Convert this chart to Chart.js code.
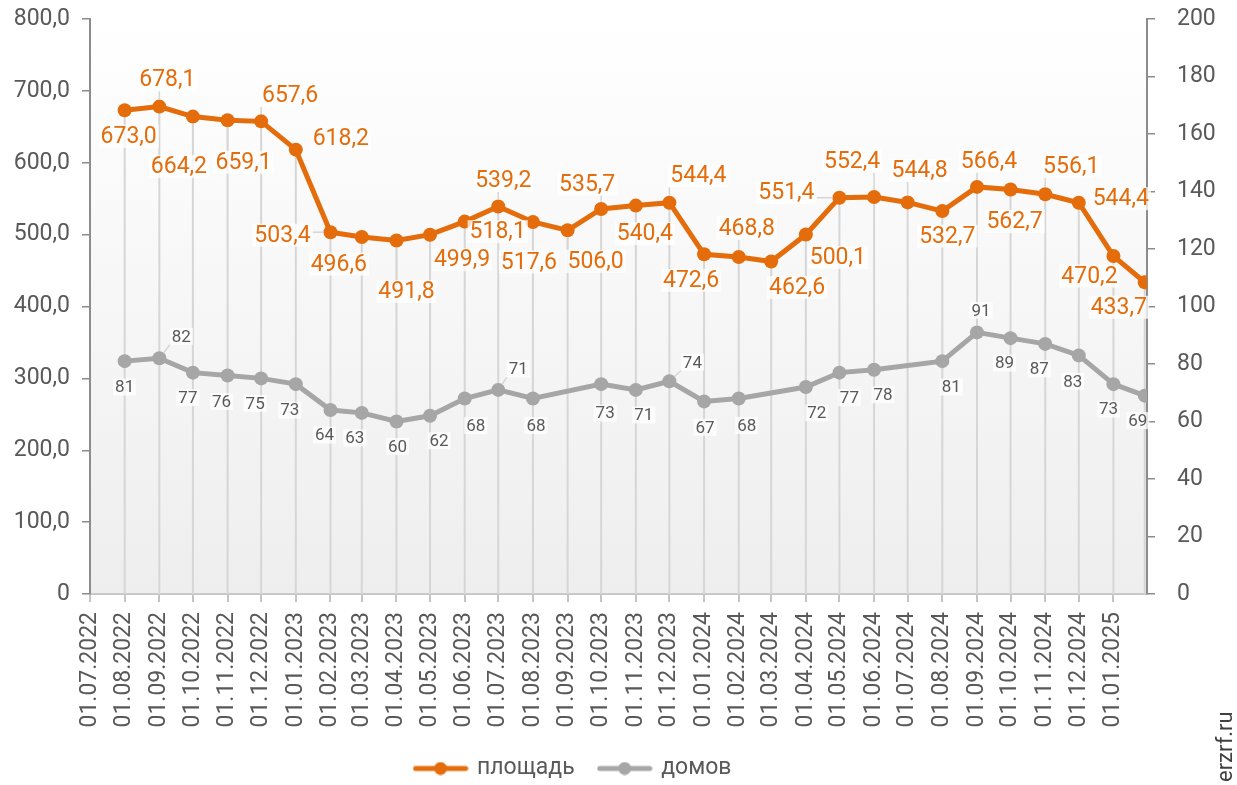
<!DOCTYPE html>
<html>
<head>
<meta charset="utf-8">
<style>
  html, body { margin: 0; padding: 0; background: #fff; }
  canvas { display: block; }
</style>
</head>
<body>
<canvas id="chart" width="1237" height="785"></canvas>
<script src="https://cdn.jsdelivr.net/npm/chart.js"></script>
<script>
// month ticks on the date axis
const tickLabels = [
  '01.07.2022', '01.08.2022', '01.09.2022', '01.10.2022', '01.11.2022', '01.12.2022',
  '01.01.2023', '01.02.2023', '01.03.2023', '01.04.2023', '01.05.2023', '01.06.2023',
  '01.07.2023', '01.08.2023', '01.09.2023', '01.10.2023', '01.11.2023', '01.12.2023',
  '01.01.2024', '01.02.2024', '01.03.2024', '01.04.2024', '01.05.2024', '01.06.2024',
  '01.07.2024', '01.08.2024', '01.09.2024', '01.10.2024', '01.11.2024', '01.12.2024',
  '01.01.2025'
];
const axisEnd = '31.01.2025';

// dates of the points
const pointDates = [
  '01.08.2022', '01.09.2022', '01.10.2022', '01.11.2022', '01.12.2022',
  '01.01.2023', '01.02.2023', '01.03.2023', '01.04.2023', '01.05.2023', '01.06.2023',
  '01.07.2023', '01.08.2023', '01.09.2023', '01.10.2023', '01.11.2023', '01.12.2023',
  '01.01.2024', '01.02.2024', '01.03.2024', '01.04.2024', '01.05.2024', '01.06.2024',
  '01.07.2024', '01.08.2024', '01.09.2024', '01.10.2024', '01.11.2024', '01.12.2024',
  '01.01.2025', '29.01.2025'
];

// площадь (left axis)
const area = [
  673.0, 678.1, 664.2, 659.1, 657.6, 618.2, 503.4, 496.6, 491.8, 499.9, 518.1,
  539.2, 517.6, 506.0, 535.7, 540.4, 544.4, 472.6, 468.8, 462.6, 500.1, 551.4,
  552.4, 544.8, 532.7, 566.4, 562.7, 556.1, 544.4, 470.2, 433.7
];

// домов (right axis), null = no value that month
const houses = [
  81, 82, 77, 76, 75, 73, 64, 63, 60, 62, 68,
  71, 68, null, 73, 71, 74, 67, 68, null, 72, 77,
  78, null, 81, 91, 89, 87, 83, 73, 69
];

const ORANGE = '#E46C0A';
const GREY = '#A6A6A6';
const TEXT = '#595959';
Chart.defaults.font.family = 'Roboto';

function parseDate(s) {
  const [d, m, y] = s.split('.').map(Number);
  return Date.UTC(y, m - 1, d);
}
const t0 = parseDate(tickLabels[0]);
const dayOf = s => Math.round((parseDate(s) - t0) / 864e5);
const tickText = new Map(tickLabels.map(l => [dayOf(l), l]));
const comma = (v, d) => v.toFixed(d).replace('.', ',');

// label placement next to each point: [dx, dy, leader line]
const labelStyle = [
  {
    size: 23, color: ORANGE, digits: 1,
    offsets: [
      [4, 26], [8, -27, 1], [-14, 50, 1], [16, 42, 1], [29, -26, 1], [45, -11],
      [-48, 3, 1], [-23, 27], [10, 51, 1], [32, 25], [33, 10], [5, -26, 1],
      [-4, 40, 1], [28, 31, 1], [-14, -25, 1], [9, 28, 1], [29, -27, 1], [-13, 26],
      [8, -29, 1], [26, 26], [32, 23], [-53, -5, 1], [-22, -36, 1], [12, -32, 1],
      [5, 25], [12, -26, 1], [4, 32], [26, -28, 1], [42, -4], [-24, 20], [-26, 25]
    ]
  },
  {
    size: 17, color: TEXT, digits: 0,
    offsets: [
      [0, 26], [22, -22, 1], [-5, 25], [-6, 26], [-6, 25], [-6, 26], [-6, 25],
      [-7, 25], [1, 25], [9, 25], [11, 27], [20, -21, 1], [3, 27], null,
      [4, 29, 1], [8, 25], [23, -19, 1], [1, 26], [8, 27], null, [11, 26],
      [10, 25], [9, 25], null, [9, 26], [4, -22, 1], [-6, 25], [-6, 25],
      [-6, 26], [-5, 25], [-7, 25]
    ]
  }
];

function legendIcon(color) {
  const c = document.createElement('canvas');
  c.width = 56; c.height = 14;
  const g = c.getContext('2d');
  g.strokeStyle = color; g.lineWidth = 5; g.lineCap = 'round';
  g.beginPath(); g.moveTo(3, 7); g.lineTo(53, 7); g.stroke();
  g.fillStyle = color;
  g.beginPath(); g.arc(28, 7, 6.5, 0, Math.PI * 2); g.fill();
  return c;
}
const icons = [legendIcon(ORANGE), legendIcon(GREY)];

const plotBg = {
  id: 'plotBg',
  beforeDraw(chart) {
    const { ctx, chartArea: a } = chart;
    const g = ctx.createLinearGradient(0, a.top, 0, a.bottom);
    g.addColorStop(0, '#ffffff');
    g.addColorStop(1, '#eeeeee');
    ctx.save();
    ctx.fillStyle = g;
    ctx.fillRect(a.left, a.top, a.right - a.left, a.bottom - a.top);
    ctx.restore();
  }
};

// legend is centred under the plot, not under the whole canvas
const legendUnderPlot = {
  id: 'legendUnderPlot',
  afterLayout(chart) {
    const lg = chart.legend;
    if (!lg) return;
    lg.right = chart.chartArea.right;
    lg.width = lg.right - lg.left;
  }
};

// vertical drop lines from the top series to the axis
const dropLines = {
  id: 'dropLines',
  beforeDatasetsDraw(chart) {
    const { ctx, chartArea: a } = chart;
    ctx.save();
    ctx.strokeStyle = '#d6d6d6';
    ctx.lineWidth = 2;
    chart.getDatasetMeta(0).data.forEach(p => {
      ctx.beginPath();
      ctx.moveTo(p.x, p.y);
      ctx.lineTo(p.x, a.bottom);
      ctx.stroke();
    });
    ctx.restore();
  }
};

const pointLabels = {
  id: 'pointLabels',
  afterDatasetsDraw(chart) {
    const ctx = chart.ctx;
    chart.data.datasets.forEach((ds, di) => {
      const st = labelStyle[di];
      const meta = chart.getDatasetMeta(di);
      ctx.save();
      ctx.font = st.size + 'px Roboto';
      ctx.textAlign = 'center';
      ctx.textBaseline = 'middle';
      meta.data.forEach((pt, i) => {
        const v = ds.data[i].y;
        if (v === null || v === undefined || !st.offsets[i]) return;
        const [dx, dy, leader] = st.offsets[i];
        const txt = comma(v, st.digits);
        const cx = pt.x + dx, cy = pt.y + dy;
        const w = ctx.measureText(txt).width + 4, h = st.size;
        const l = cx - w / 2, t = cy - h / 2;
        if (leader) {
          const nx = Math.max(l, Math.min(pt.x, l + w));
          const ny = Math.max(t, Math.min(pt.y, t + h));
          const dist = Math.hypot(nx - pt.x, ny - pt.y) || 1;
          ctx.strokeStyle = '#d6d6d6';
          ctx.lineWidth = 1.5;
          ctx.beginPath();
          ctx.moveTo(pt.x + (nx - pt.x) / dist * 7, pt.y + (ny - pt.y) / dist * 7);
          ctx.lineTo(nx, ny);
          ctx.stroke();
        }
        ctx.fillStyle = 'rgba(255,255,255,0.75)';
        ctx.fillRect(l, t, w, h);
        ctx.fillStyle = st.color;
        ctx.fillText(txt, cx, cy + 1);
      });
      ctx.restore();
    });
  }
};

const watermark = {
  id: 'watermark',
  afterDraw(chart) {
    const ctx = chart.ctx;
    ctx.save();
    ctx.translate(1232, 782);
    ctx.rotate(-Math.PI / 2);
    ctx.font = '22px Roboto';
    ctx.fillStyle = '#404040';
    ctx.textAlign = 'left';
    ctx.textBaseline = 'alphabetic';
    ctx.fillText('erzrf.ru', 0, 0);
    ctx.restore();
  }
};

// no automatic label overhang padding: the plot box is fixed
const noOverhang = s => { s.paddingTop = 0; s.paddingBottom = 0; s.paddingLeft = 0; s.paddingRight = 0; };

new Chart(document.getElementById('chart'), {
  type: 'line',
  data: {
    datasets: [
      {
        label: 'площадь',
        data: pointDates.map((d, i) => ({ x: dayOf(d), y: area[i] })),
        yAxisID: 'y',
        borderColor: ORANGE,
        backgroundColor: ORANGE,
        borderWidth: 5,
        pointRadius: 7,
        pointBorderWidth: 0,
        tension: 0
      },
      {
        label: 'домов',
        data: pointDates.map((d, i) => ({ x: dayOf(d), y: houses[i] })),
        yAxisID: 'y1',
        borderColor: GREY,
        backgroundColor: GREY,
        borderWidth: 5,
        pointRadius: 7,
        pointBorderWidth: 0,
        spanGaps: true,
        tension: 0
      }
    ]
  },
  options: {
    responsive: false,
    animation: false,
    layout: { padding: { top: 19, right: 0, bottom: -5, left: 0 } },
    scales: {
      x: {
        type: 'linear',
        min: 0,
        max: dayOf(axisEnd),
        afterBuildTicks: s => { s.ticks = tickLabels.map(l => ({ value: dayOf(l) })); },
        afterFit: s => { noOverhang(s); s.height = 138; },
        ticks: {
          autoSkip: false,
          minRotation: 90,
          maxRotation: 90,
          padding: 10,
          color: TEXT,
          font: { size: 23 },
          callback: v => tickText.get(v) || ''
        },
        grid: { drawOnChartArea: false, tickLength: 8, color: '#c4c4c4', lineWidth: 2 },
        border: { color: '#c8c8c8', width: 2 }
      },
      y: {
        position: 'left',
        min: 0,
        max: 800,
        afterFit: s => { noOverhang(s); s.width = 90; },
        ticks: {
          stepSize: 100,
          padding: 12,
          color: TEXT,
          font: { size: 23 },
          callback: v => (v === 0 ? '0' : comma(v, 1))
        },
        grid: { drawOnChartArea: false, tickLength: 8, color: '#8c8c8c', lineWidth: 1.5 },
        border: { color: '#8c8c8c', width: 2 }
      },
      y1: {
        position: 'right',
        min: 0,
        max: 200,
        afterFit: s => { noOverhang(s); s.width = 90; },
        ticks: { stepSize: 20, padding: 22, color: TEXT, font: { size: 23 } },
        grid: { drawOnChartArea: false, tickLength: 8, color: '#8c8c8c', lineWidth: 1.5 },
        border: { color: '#8c8c8c', width: 2 }
      }
    },
    plugins: {
      tooltip: { enabled: false },
      legend: {
        position: 'bottom',
        labels: {
          usePointStyle: true,
          pointStyleWidth: 50,
          padding: 25,
          color: TEXT,
          font: { size: 23 },
          generateLabels: chart => Chart.defaults.plugins.legend.labels.generateLabels(chart)
            .map((it, i) => Object.assign(it, { pointStyle: icons[i] }))
        }
      }
    }
  },
  plugins: [plotBg, legendUnderPlot, dropLines, pointLabels, watermark]
});
</script>
</body>
</html>
